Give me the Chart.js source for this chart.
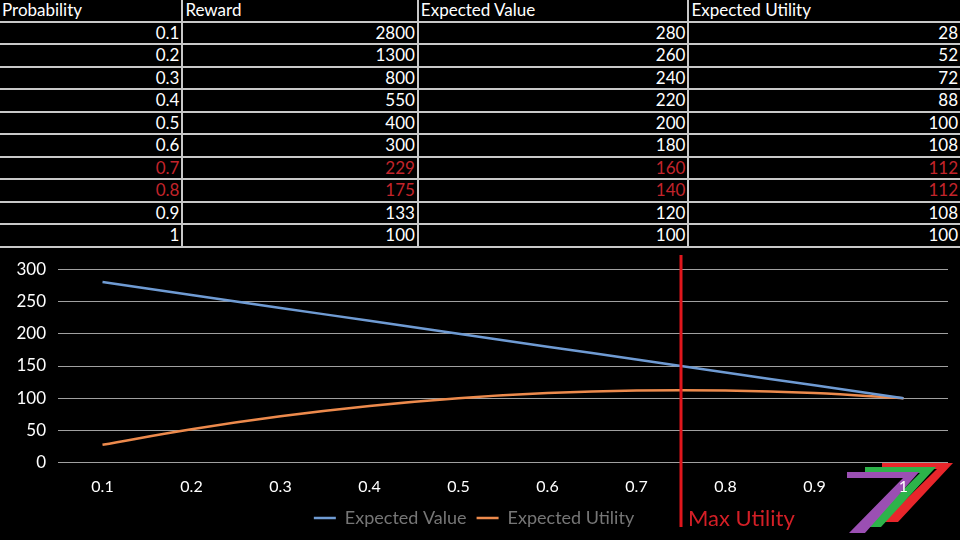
<!DOCTYPE html>
<html>
<head>
<meta charset="utf-8">
<script src="https://cdn.jsdelivr.net/npm/chart.js@4"></script>
<style>
  body { margin: 0; background: #000; width: 960px; height: 540px; overflow: hidden; position: relative; font-family: Lato, "Open Sans", sans-serif; }
  table { position: absolute; left: 0; top: 0; width: 960px; border-collapse: collapse; color: #fff; font-size: 17px; }
  td { border: 2px solid #c8c8c8; height: 20.5px; padding: 0 2px; line-height: 18px; text-align: right; }
  tr:first-child td { text-align: left; border-top: none; }
  td:first-child { border-left: none; }
  td:last-child { border-right: none; }
  tr.hot td { color: #c3242b; }
  #wrap { position: absolute; left: 0; top: 247px; width: 960px; height: 293px; }
  #logo { position: absolute; left: 0; top: 0; }
</style>
</head>
<body>
<table id="tabla"></table>
<svg id="logo" width="960" height="540">
  <polygon points="882,463 953,463 898,522 883,522 937,469 882,469" fill="#e8262b"/>
  <polygon points="865,467 936,467 881,527 866,527 920,473 865,473" fill="#2db34a"/>
  <polygon points="847,472 919,472 865,533 849,533 903,478 847,478" fill="#9b4fb3"/>
</svg>
<div id="wrap"><canvas id="chartUtilidad" width="960" height="293"></canvas></div>
<script>
// Datos de la tabla y la gráfica
const encabezados = ['Probability', 'Reward', 'Expected Value', 'Expected Utility'];
const probabilidades = ['0.1', '0.2', '0.3', '0.4', '0.5', '0.6', '0.7', '0.8', '0.9', '1'];
const recompensas = [2800, 1300, 800, 550, 400, 300, 229, 175, 133, 100];
const valorEsperado = [280, 260, 240, 220, 200, 180, 160, 140, 120, 100];
const utilidadEsperada = [28, 52, 72, 88, 100, 108, 112, 112, 108, 100];
const filasDestacadas = ['0.7', '0.8'];
const probMaxUtilidad = 0.75; // entre 0.7 y 0.8

const anchosColumnas = [183, 235, 270, 272];
const PADDING_LEYENDA = 10;
const RECORTE_LEYENDA = PADDING_LEYENDA + 1; // quitar espacio vertical sin perder separación horizontal

// Construir la tabla
function construirTabla() {
    const tabla = document.getElementById('tabla');
    let html = '<tr>' + encabezados.map((h, i) => `<td style="width:${anchosColumnas[i] - 6}px">${h}</td>`).join('') + '</tr>';
    probabilidades.forEach((p, i) => {
        const clase = filasDestacadas.includes(p) ? ' class="hot"' : '';
        html += `<tr${clase}><td>${p}</td><td>${recompensas[i]}</td><td>${valorEsperado[i]}</td><td>${utilidadEsperada[i]}</td></tr>`;
    });
    tabla.innerHTML = html;
}
construirTabla();

// Leyenda más compacta en vertical
const ajusteLeyenda = {
    id: 'ajusteLeyenda',
    beforeLayout(chart) {
        const ley = chart.legend;
        if (ley && !ley._ajustado) {
            const fitOrig = ley.fit;
            ley.fit = function() {
                fitOrig.call(this);
                this.height -= RECORTE_LEYENDA;
            };
            ley._ajustado = true;
        }
    },
    afterLayout(chart) {
        const ley = chart.legend;
        if (ley) {
            ley.top -= RECORTE_LEYENDA;
            ley.height += RECORTE_LEYENDA;
        }
    }
};

// Línea vertical de "Max Utility"
const lineaMaxUtilidad = {
    id: 'lineaMaxUtilidad',
    afterDraw(chart) {
        const x = chart.scales.x;
        const nums = probabilidades.map(Number);
        let idx = 0;
        while (idx < nums.length - 1 && nums[idx + 1] < probMaxUtilidad) idx++;
        const frac = (probMaxUtilidad - nums[idx]) / (nums[idx + 1] - nums[idx]);
        const px = x.getPixelForValue(idx + frac);
        const ctx = chart.ctx;
        ctx.save();
        ctx.strokeStyle = '#e0161c';
        ctx.lineWidth = 3;
        ctx.beginPath();
        ctx.moveTo(px, 8);
        ctx.lineTo(px, 280);
        ctx.stroke();
        ctx.fillStyle = '#d41f26';
        ctx.font = '22px Lato, "Open Sans", sans-serif';
        ctx.textBaseline = 'middle';
        ctx.fillText('Max Utility', px + 7, 272);
        ctx.restore();
    }
};

const ctx = document.getElementById('chartUtilidad').getContext('2d');
new Chart(ctx, {
    type: 'line',
    data: {
        labels: probabilidades,
        datasets: [
            {
                label: 'Expected Value',
                data: valorEsperado,
                borderColor: '#6f9bd3',
                backgroundColor: '#6f9bd3',
                borderWidth: 2.5,
                pointRadius: 0,
                tension: 0.4
            },
            {
                label: 'Expected Utility',
                data: utilidadEsperada,
                borderColor: '#ed8a4c',
                backgroundColor: '#ed8a4c',
                borderWidth: 2.5,
                pointRadius: 0,
                tension: 0.4
            }
        ]
    },
    options: {
        responsive: false,
        animation: false,
        layout: { padding: { top: 18, right: 12, left: 0, bottom: 3 } },
        plugins: {
            legend: {
                position: 'bottom',
                labels: {
                    usePointStyle: true,
                    pointStyle: 'line',
                    pointStyleWidth: 22,
                    color: '#767676',
                    font: { family: 'Lato', size: 18 },
                    padding: PADDING_LEYENDA
                }
            },
            tooltip: { enabled: false }
        },
        scales: {
            y: {
                min: 0, max: 300,
                ticks: { stepSize: 50, color: '#fff', font: { family: 'Lato', size: 17 }, padding: 12 },
                grid: { color: '#a0a0a0', drawTicks: false },
                border: { display: false },
                afterFit(s) { s.width = 58; }
            },
            x: {
                offset: true,
                ticks: { color: '#fff', font: { family: 'Lato', size: 16 }, padding: 14 },
                grid: { display: false, drawTicks: false, offset: true },
                border: { display: false }
            }
        }
    },
    plugins: [ajusteLeyenda, lineaMaxUtilidad]
});
</script>
</body>
</html>
